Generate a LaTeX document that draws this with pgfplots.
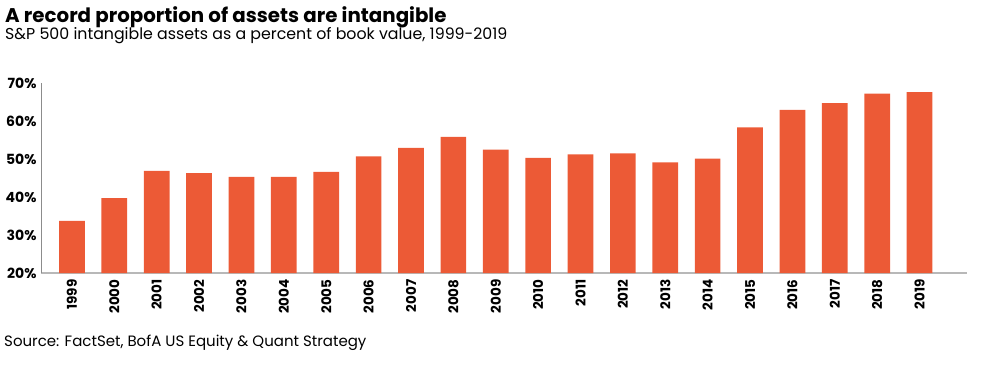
\documentclass[border=0pt]{standalone}
\usepackage{fontspec}
\setmainfont{Poppins}
\usepackage{pgfplots}
\pgfplotsset{compat=1.18}
\definecolor{barc}{HTML}{EC5A36}
\begin{document}
\begin{tikzpicture}[x=1pt,y=1pt]
\path[use as bounding box] (0,0) rectangle (1000,367);
\node[anchor=base west,inner sep=0pt,font=\fontsize{19.8}{24}\selectfont\bfseries] at (5,344.5) {A record proportion of assets are intangible};
\node[anchor=base west,inner sep=0pt,font=\fontsize{15.8}{18}\selectfont] at (5,327.5) {S\&P 500 intangible assets as a percent of book value, 1999-2019};
\node[anchor=base west,inner sep=0pt,font=\fontsize{15}{18}\selectfont] at (4,20.5) {Source: FactSet, BofA US Equity \& Quant Strategy};
\begin{axis}[
  at={(41pt,94pt)}, anchor=south west,
  scale only axis, width=926pt, height=190pt,
  xmin=-0.73, xmax=21.12, ymin=20, ymax=70,
  axis lines*=left,
  x axis line style={draw=black!28, line width=2pt},
  y axis line style={draw=black!45, line width=0.9pt},
  axis line style={-},
  ybar, bar width=25.7pt,
  xtick={0,...,20},
  xticklabels={1999,2000,2001,2002,2003,2004,2005,2006,2007,2008,2009,2010,2011,2012,2013,2014,2015,2016,2017,2018,2019},
  xticklabel style={rotate=90, anchor=east, font=\fontsize{13.5}{15}\selectfont\bfseries, xshift=-3pt},
  ytick={20,30,40,50,60,70},
  yticklabel={\pgfmathprintnumber{\tick}\%},
  yticklabel style={font=\fontsize{14}{16}\selectfont\bfseries, xshift=-1pt},
  /pgf/number format/assume math mode=true,
  major tick length=0pt,
  tick style={draw=none},
  clip=false,
]
\addplot[fill=barc, draw=none] coordinates {
(0,33.7) (1,39.7) (2,46.9) (3,46.3) (4,45.3) (5,45.3) (6,46.6) (7,50.7) (8,52.9) (9,55.8) (10,52.5)
(11,50.3) (12,51.2) (13,51.5) (14,49.1) (15,50.1) (16,58.3) (17,62.9) (18,64.7) (19,67.2) (20,67.6)
};
\end{axis}
\end{tikzpicture}
\end{document}
